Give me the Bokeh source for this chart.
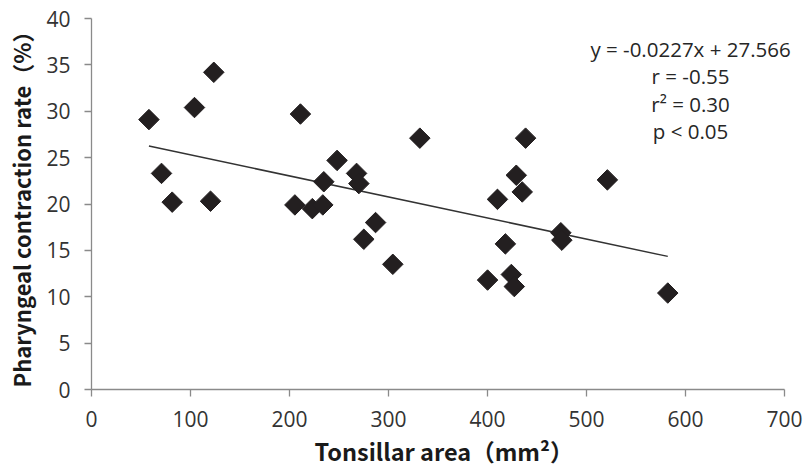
import numpy as np
from bokeh.plotting import figure
from bokeh.models import Range1d, FixedTicker, Label
from bokeh.embed import file_html
from bokeh.resources import INLINE

# Data
tonsillar_area = [58, 123.5, 104, 211, 70.7, 81.5, 120.2, 205.4, 223, 233.6,
                  234.6, 248, 331.6, 438.4, 267.7, 270, 286.9, 275, 304.3, 429,
                  435, 410, 521, 474, 475, 418, 400, 424, 427, 582]
contraction_rate = [29.1, 34.2, 30.4, 29.7, 23.3, 20.2, 20.3, 19.9, 19.5, 19.9,
                    22.4, 24.7, 27.1, 27.1, 23.3, 22.2, 18.0, 16.2, 13.5, 23.1,
                    21.3, 20.5, 22.6, 16.9, 16.1, 15.7, 11.8, 12.4, 11.1, 10.4]
slope = -0.0227
intercept = 27.566
x_ticks = [0, 100, 200, 300, 400, 500, 600, 700]
y_ticks = [0, 5, 10, 15, 20, 25, 30, 35, 40]
x_title = "Tonsillar area\uff08mm\u00b2\uff09"
y_title = "Pharyngeal contraction rate\uff08%\uff09"
stats_lines = ["y = -0.0227x + 27.566", "r = -0.55", "r\u00b2 = 0.30", "p < 0.05"]
stats_y = [36.7, 33.8, 30.8, 27.9]
stats_x = 605

p = figure(width=805, height=470, output_backend="svg", toolbar_location=None,
           x_range=Range1d(0, 712), y_range=Range1d(0, 40),
           min_border_left=91, min_border_right=9, min_border_top=18,
           min_border_bottom=81)
p.outline_line_color = None
p.grid.visible = False
p.background_fill_color = "white"

for ax in (p.xaxis[0], p.yaxis[0]):
    ax.axis_line_color = "#8a8a8a"
    ax.axis_line_width = 1.3
    ax.major_tick_line_color = "#8a8a8a"
    ax.major_tick_line_width = 1.3
    ax.major_tick_out = 7
    ax.major_tick_in = 0
    ax.minor_tick_line_color = None
    ax.major_label_text_font = "Open Sans"
    ax.major_label_text_font_size = "21px"
    ax.major_label_text_color = "#333333"
    ax.axis_label_text_font = "Noto Sans CJK JP"
    ax.axis_label_text_font_style = "bold"
    ax.axis_label_text_color = "#1a1a1a"

p.xaxis[0].bounds = (0, 700)
p.yaxis[0].axis_label_text_font_size = "22px"
p.xaxis[0].axis_label_text_font_size = "23.5px"
p.xaxis[0].ticker = FixedTicker(ticks=x_ticks)
p.yaxis[0].ticker = FixedTicker(ticks=y_ticks)
p.xaxis[0].major_label_standoff = 14
p.yaxis[0].major_label_standoff = 14
p.xaxis[0].axis_label = x_title
p.xaxis[0].axis_label_standoff = 4
p.yaxis[0].axis_label = y_title
p.yaxis[0].axis_label_standoff = 6

# regression line
xs = np.array([min(tonsillar_area), max(tonsillar_area)])
p.line(xs, slope * xs + intercept, line_color="#333333", line_width=1.5)

# points
p.scatter(tonsillar_area, contraction_rate, marker="square", size=14.5,
          angle=np.pi / 4, fill_color="#231f20", line_color="#231f20")

for txt, yy in zip(stats_lines, stats_y):
    p.add_layout(Label(x=stats_x, y=yy, text=txt, text_align="center",
                       text_baseline="middle", text_font="Open Sans",
                       text_font_size="20.5px", text_color="#262626"))

open("out.html", "w").write(file_html(p, INLINE))
